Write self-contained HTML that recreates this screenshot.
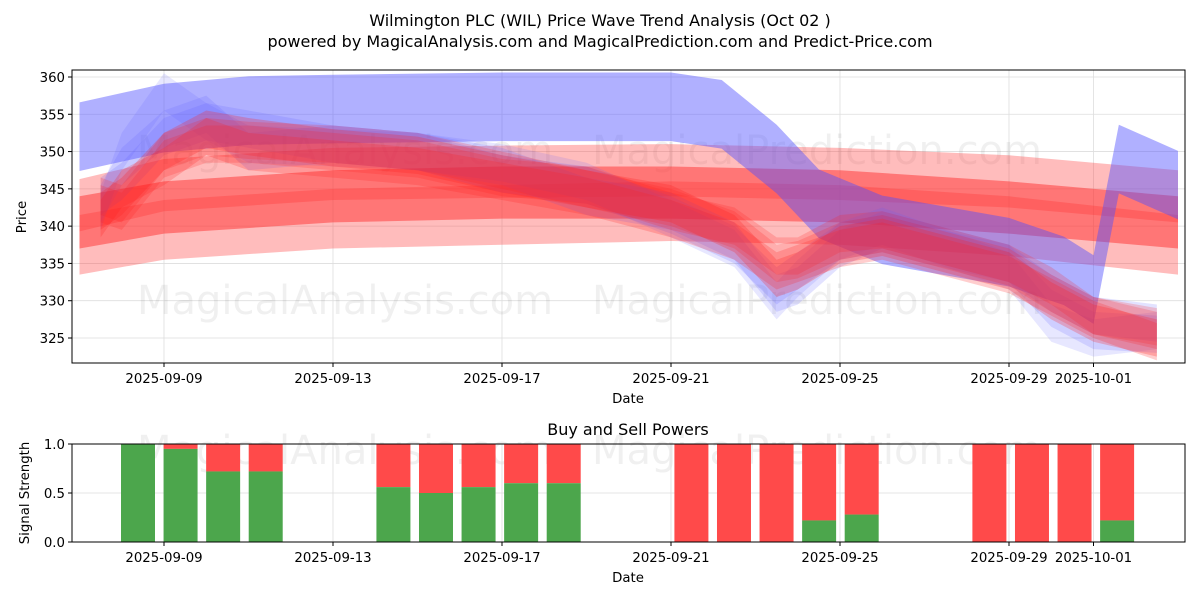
<!DOCTYPE html>
<html><head><meta charset="utf-8"><style>
body{margin:0;background:#fff}
svg{font-family:"DejaVu Sans","Liberation Sans",sans-serif}
</style></head><body>
<svg id="c" width="1200" height="600" xmlns="http://www.w3.org/2000/svg">
<text x="600" y="26" font-size="16" text-anchor="middle">Wilmington PLC (WIL) Price Wave Trend Analysis (Oct 02 )</text>
<text x="600" y="47" font-size="16" text-anchor="middle">powered by MagicalAnalysis.com and MagicalPrediction.com and Predict-Price.com</text>
<g id="gtop"></g><g id="gbot"></g>
</svg>
<script>
const tickDays=[0,4,8,12,16,20,22];
const tickLabels=["2025-09-09","2025-09-13","2025-09-17","2025-09-21","2025-09-25","2025-09-29","2025-10-01"];
const priceTicks=[325,330,335,340,345,350,355,360];
const bandDays=[-2,0,4,8,12,16,20,24];
const bandA=[342.8,345.5,347,347.3,347.5,347,346,344];
const bandB=[340.5,342.5,344,344.5,344.5,344,342.5,340.5];
const bandC=[337.5,339.5,341,341.5,342,341.5,340,337.5];
const blueDays=[-2,0,2,4,8,12,13.2,14.5,15.5,17,20,21.3,22,22.6,24];
const blueMain=[352,354.5,355.5,355.7,356,356,355,349,343,339.5,336.5,334,331.5,349,345.5];
const waveDays=[-1.5,-1,0,1,2,4,6,8,10,12,13.5,14.5,15,16,17,18,20,21,22,23.5];
const waveR1=[342,344,350,353,352,350.5,349.5,347,345,343,339,333,334,337.5,338.5,337,334,330,327,325];
const waveR2=[343,342,349,351,351,350,349,346.5,345.5,342,340,336,336,339,339.5,338,335,332,328,326];
const waveR3=[341,345,348,352,350,349,348,346,344,341,338,334,335,337,338,336.5,333.5,330.5,327.5,324.5];
const waveR4=[344,343,350,352,351.5,351,350,347.5,345,342.5,339.5,335,335.5,338,339,337.5,334.5,331,328,326.5];
const waveB1=[343,348,353,355,350,351,350,348,344,342,338,331,332,337,339.5,338,335,329,326,325.5];
const waveB2=[342,350,358,354,351,350.5,350,348.5,346,341,337,330,333,338,340,338,334,327,325,326];
const waveB3=[344,346,352,354,353,351,350,347,345.5,341.5,337.5,332,334,338,339,337.5,335,331,328,327];
const barDays=[0,1,2,3,6,7,8,9,10,13,14,15,16,17,20,21,22,23];
const buyPower=[1.0,0.95,0.72,0.72,0.56,0.5,0.56,0.6,0.6,0,0,0,0.22,0.28,0,0,0,0.22];

(function(){
const NS="http://www.w3.org/2000/svg";
const L=72,R=1185,T1=70,B1=363,T2=444,B2=542;
const FS=13.3;
const xs=d=>164+42.25*d;
const xb=d=>138+42.57*d;
const ys=p=>77+(360-p)*7.457;
const y2=v=>B2-(B2-T2)*v;
function mk(tag,attrs,parent){const e=document.createElementNS(NS,tag);for(const k in attrs)e.setAttribute(k,attrs[k]);parent.appendChild(e);return e;}
const gTop=document.getElementById('gtop'),gBot=document.getElementById('gbot');
tickDays.forEach(d=>{
 const g1=mk('line',{x1:xs(d),x2:xs(d),y1:T1,y2:B1,stroke:'#ddd','stroke-width':0.8},gTop);
 
 
});
priceTicks.forEach(p=>{
 const g=mk('line',{x1:L,x2:R,y1:ys(p),y2:ys(p),stroke:'#ddd','stroke-width':0.8},gTop);
 
 
});
[[345,150],[817,150],[345,300],[817,300],[345,450],[817,450]].forEach(w=>{
 const t=mk('text',{x:w[0],y:w[1]+14,'font-size':40,'text-anchor':'middle',fill:'rgba(0,0,0,0.06)'},gTop);
 t.textContent=w[0]<500?'MagicalAnalysis.com':'MagicalPrediction.com';
 
 
});
function band(days,vals,half,color,op,name){
 let up=[],dn=[];
 days.forEach((d,i)=>{up.push(xs(d)+','+ys(vals[i]+half));dn.unshift(xs(d)+','+ys(vals[i]-half));});
 const p=mk('polygon',{points:up.concat(dn).join(' '),fill:color,'fill-opacity':op},gTop);
 
 
}
band(bandDays,bandA,3.5,'#ff4040',0.35,'wave-band-upper');
band(bandDays,bandC,4,'#ff4040',0.35,'wave-band-lower');
band(bandDays,bandB,3.5,'#ff3030',0.5,'wave-band-middle');
band(blueDays,blueMain,4.6,'#5050ff',0.45,'blue-wave-band');
band(waveDays,waveB1,2.5,'#6060ff',0.18,'blue-wave-1');
band(waveDays,waveB2,2.5,'#6060ff',0.15,'blue-wave-2');
band(waveDays,waveB3,2.5,'#6060ff',0.18,'blue-wave-3');
band(waveDays,waveR1,2.5,'#ff2020',0.25,'red-wave-1');
band(waveDays,waveR2,2.5,'#ff2020',0.2,'red-wave-2');
band(waveDays,waveR3,2.5,'#ff2020',0.22,'red-wave-3');
band(waveDays,waveR4,2.5,'#ff2020',0.2,'red-wave-4');
let f=mk('rect',{x:L,y:T1,width:R-L,height:B1-T1,fill:'none',stroke:'#000','stroke-width':1},gTop);


tickDays.forEach((d,i)=>{
 mk('line',{x1:xs(d),x2:xs(d),y1:B1,y2:B1+4,stroke:'#000'},gTop);
 const t=mk('text',{x:xs(d),y:B1+20,'font-size':FS,'text-anchor':'middle'},gTop);
 t.textContent=tickLabels[i];
 
 
});
priceTicks.forEach(p=>{
 mk('line',{x1:L-4,x2:L,y1:ys(p),y2:ys(p),stroke:'#000'},gTop);
 const t=mk('text',{x:L-7,y:ys(p)+5,'font-size':FS,'text-anchor':'end'},gTop);
 t.textContent=p;
 
 
});
let t=mk('text',{x:628,y:403,'font-size':FS,'text-anchor':'middle'},gTop);t.textContent='Date';


t=mk('text',{x:26,y:217,'font-size':FS,'text-anchor':'middle',transform:'rotate(-90 26 217)'},gTop);t.textContent='Price';


tickDays.forEach(d=>{const g=mk('line',{x1:xs(d),x2:xs(d),y1:T2,y2:B2,stroke:'#ddd','stroke-width':0.8},gBot);
 
 });
[0,0.5,1].forEach(v=>{const g=mk('line',{x1:L,x2:R,y1:y2(v),y2:y2(v),stroke:'#ddd','stroke-width':0.8},gBot);
 
 });
barDays.forEach((d,i)=>{
 const cx=xb(d),w=34;
 const r=mk('rect',{x:cx-w/2,y:T2,width:w,height:y2(buyPower[i])-T2,fill:'#ff4a4a'},gBot);
 
 
 const g=mk('rect',{x:cx-w/2,y:y2(buyPower[i]),width:w,height:B2-y2(buyPower[i]),fill:'#4ca64c'},gBot);
 
 
});
f=mk('rect',{x:L,y:T2,width:R-L,height:B2-T2,fill:'none',stroke:'#000','stroke-width':1},gBot);


tickDays.forEach((d,i)=>{
 mk('line',{x1:xs(d),x2:xs(d),y1:B2,y2:B2+4,stroke:'#000'},gBot);
 const tt=mk('text',{x:xs(d),y:B2+20,'font-size':FS,'text-anchor':'middle'},gBot);
 tt.textContent=tickLabels[i];
 
 
});
[0,0.5,1].forEach(v=>{
 mk('line',{x1:L-4,x2:L,y1:y2(v),y2:y2(v),stroke:'#000'},gBot);
 const tt=mk('text',{x:L-7,y:y2(v)+5,'font-size':FS,'text-anchor':'end'},gBot);
 tt.textContent=v.toFixed(1);
 
 
});
t=mk('text',{x:628,y:435,'font-size':16,'text-anchor':'middle'},gBot);t.textContent='Buy and Sell Powers';


t=mk('text',{x:628,y:582,'font-size':FS,'text-anchor':'middle'},gBot);t.textContent='Date';


t=mk('text',{x:29,y:493,'font-size':FS,'text-anchor':'middle',transform:'rotate(-90 29 493)'},gBot);t.textContent='Signal Strength';


})();
</script>
</body></html>
